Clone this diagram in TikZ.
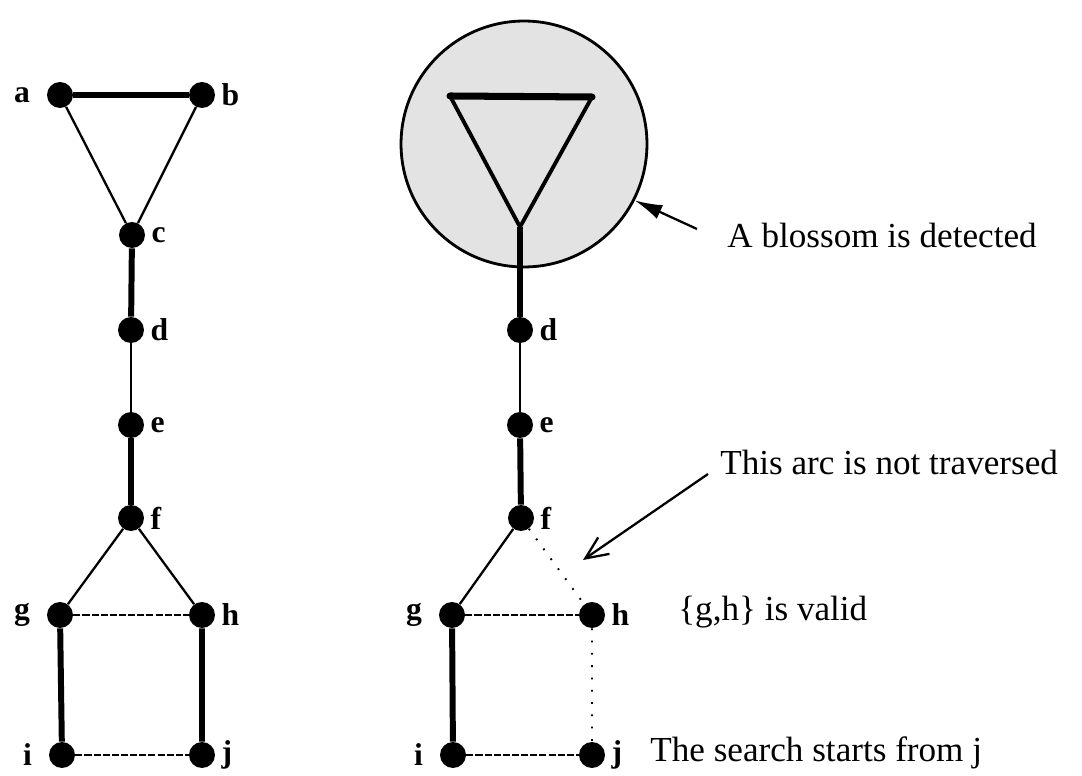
\documentclass[tikz,border=0pt]{standalone}
\usepackage{fontspec}
\setmainfont{Liberation Serif}
\usetikzlibrary{arrows.meta}
\begin{document}
\begin{tikzpicture}[x=0.02cm,y=-0.02cm,
  vertex/.style={circle,fill=black,inner sep=0pt,minimum size=0.52cm,label distance=1pt},
  vlabel/.style={font=\fontsize{18}{20}\selectfont\bfseries},
  llabel/.style={vlabel,xshift=-6pt},
  heavy/.style={line width=3.4pt},
  medium/.style={line width=2.2pt},
  light/.style={line width=1.3pt},
  dashedge/.style={line width=1.1pt,dash pattern=on 4pt off 1.2pt},
  dotedge/.style={line width=1.1pt,dash pattern=on 1pt off 6pt},
  note/.style={font=\fontsize{20}{22}\selectfont,anchor=west,inner sep=0pt}]
\useasboundingbox (0,0) rectangle (1082,776);
% left graph
\node[vertex,label={[llabel]left:a}] (a) at (60,95) {};
\node[vertex,label={[vlabel]right:b}] (b) at (202,95) {};
\node[vertex,label={[vlabel]right:c}] (c) at (132,235) {};
\node[vertex,label={[vlabel]right:d}] (d) at (131,330) {};
\node[vertex,label={[vlabel]right:e}] (e) at (131,425) {};
\node[vertex,label={[vlabel]right:f}] (f) at (131,518) {};
\node[vertex,label={[llabel]left:g}] (g) at (60,615) {};
\node[vertex,label={[vlabel]right:h}] (h) at (202,615) {};
\node[vertex,label={[llabel]left:i}] (i) at (62,755) {};
\node[vertex,label={[vlabel]right:j}] (j) at (202,755) {};
\draw[heavy] (a) -- (b);
\draw[light] (a) -- (c) (b) -- (c);
\draw[heavy] (c) -- (d);
\draw[light] (d) -- (e);
\draw[heavy] (e) -- (f);
\draw[light] (f) -- (g) (f) -- (h);
\draw[dashedge] (g) -- (h);
\draw[heavy] (g) -- (i) (h) -- (j);
\draw[dashedge] (i) -- (j);
% right graph, blossom shrunk
\node[circle,draw,line width=1.6pt,fill=gray!22,minimum size=4.92cm,inner sep=0pt] (blossom) at (524,144) {};
\coordinate (t1) at (450,96);
\coordinate (t2) at (592,97);
\coordinate (t3) at (520,227);
\node[vertex,label={[vlabel]right:d}] (d2) at (520,330) {};
\node[vertex,label={[vlabel]right:e}] (e2) at (520,425) {};
\node[vertex,label={[vlabel]right:f}] (f2) at (521,518) {};
\node[vertex,label={[llabel]left:g}] (g2) at (452,615) {};
\node[vertex,label={[vlabel]right:h}] (h2) at (592,615) {};
\node[vertex,label={[llabel]left:i}] (i2) at (453,755) {};
\node[vertex,label={[vlabel]right:j}] (j2) at (592,755) {};
\draw[line width=4pt,line cap=round] (t1) -- (t2);
\draw[medium,line join=round] (t1) -- (t3) -- (t2);
\draw[heavy] (t3) -- (d2);
\draw[light] (d2) -- (e2);
\draw[heavy] (e2) -- (f2);
\draw[light] (f2) -- (g2);
\draw[dotedge] (f2) -- (h2) (h2) -- (j2);
\draw[dashedge] (g2) -- (h2) (i2) -- (j2);
\draw[heavy] (g2) -- (i2);
% notes
\node[note] (blossomtxt) at (727,235) {A blossom is detected};
\draw[line width=1.3pt,-{Latex[length=0.55cm,width=0.3cm]}] (blossomtxt.west) ++(-30,-6) -- (blossom.-27);
\node[note] (arctxt) at (720,462) {This arc is not traversed};
\coordinate (arctip) at (583,560);
\draw[line width=1.3pt,-{Straight Barb[length=0.45cm,width=0.4cm]}] (arctxt.west) ++(-12,12) -- (arctip);
\node[note] (validtxt) at (678,612) {\{g,h\} is valid};
\node[note] (starttxt) at (650,753) {The search starts from j};
\end{tikzpicture}
\end{document}
